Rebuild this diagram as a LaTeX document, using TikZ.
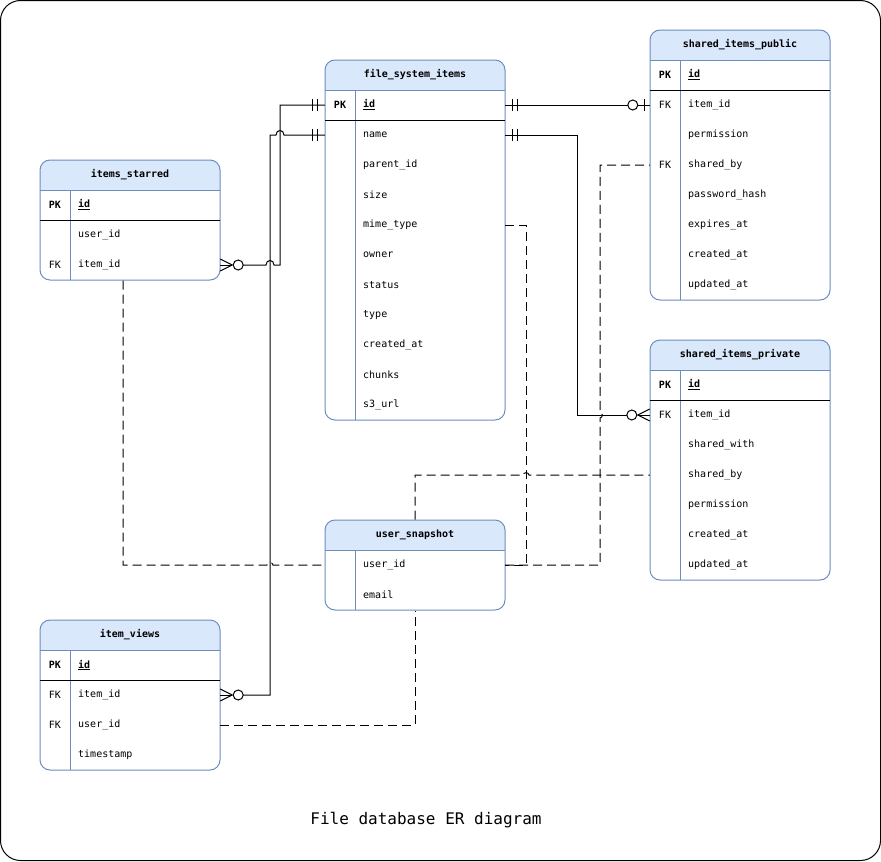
\documentclass[tikz,border=0pt]{standalone}
\usepackage{fontspec}
\setmonofont{DejaVu Sans Mono}
\usetikzlibrary{calc}
\definecolor{ebd}{HTML}{6C8EBF}
\definecolor{efill}{HTML}{DAE8FC}
\tikzset{
  tbl/.style={draw=ebd, line width=1pt, rounded corners=10pt, inner sep=0pt, minimum width=180pt},
  rowbox/.style={inner sep=0pt, minimum width=180pt, minimum height=30pt},
  hdr/.style={font=\ttfamily\bfseries\fontsize{10}{12}\selectfont, inner sep=0pt},
  keytxt/.style={font=\ttfamily\fontsize{10}{12}\selectfont, inner sep=0pt},
  fldtxt/.style={font=\ttfamily\fontsize{10}{12}\selectfont, inner sep=0pt, anchor=west},
  rel/.style={line width=1pt, black},
  drel/.style={line width=1pt, black, dash pattern=on 9pt off 5pt},
  mk/.style={line width=1pt, black},
  zc/.style={line width=1pt, black, fill=white}
}
\newcommand\ertab[5]{%
  \fill[efill] (#2,#3+30) [rounded corners=10pt] -- (#2,#3) -- (#2+180,#3) [sharp corners] -- (#2+180,#3+30) -- cycle;
  \node[tbl, minimum height=#4pt] (#1) at (#2+90,#3+#4/2) {};
  \node[hdr] (#1-title) at (#2+90,#3+15) {#5};
  \draw[ebd, line width=1pt] (#2,#3+30) -- (#2+180,#3+30);
  \draw[ebd, line width=1pt] (#2+30,#3+30) -- (#2+30,#3+#4);
}
\newcommand\ertrow[5]{%
  \node[rowbox] (#1) at (#2+90,#3) {};
  \node[keytxt] (#1-k) at (#2+15,#3) {#4};
  \node[fldtxt] (#1-t) at (#2+38,#3) {#5};
}
\newcommand\erpkline[2]{\draw[line width=1pt, black] (#1,#2) -- (#1+180,#2);}
\begin{document}
\begin{tikzpicture}[x=1pt,y=-1pt]
\useasboundingbox (0,0) rectangle (881,862);
\draw[line width=1pt, rounded corners=20pt] (0.5,0.5) rectangle (880.5,860.5);

% file_system_items
\ertab{fsi}{325}{60}{360}{file\_system\_items}
\erpkline{325}{120}
\ertrow{fsi-id}{325}{105}{\textbf{PK}}{\textbf{\underline{id}}}
\ertrow{fsi-name}{325}{135}{}{name}
\ertrow{fsi-parent}{325}{165}{}{parent\_id}
\ertrow{fsi-size}{325}{195}{}{size}
\ertrow{fsi-mime}{325}{225}{}{mime\_type}
\ertrow{fsi-owner}{325}{255}{}{owner}
\ertrow{fsi-status}{325}{285}{}{status}
\ertrow{fsi-type}{325}{315}{}{type}
\ertrow{fsi-created}{325}{345}{}{created\_at}
\ertrow{fsi-chunks}{325}{375}{}{chunks}
\ertrow{fsi-s3}{325}{405}{}{s3\_url}

% items_starred
\ertab{is}{40}{160}{120}{items\_starred}
\erpkline{40}{220}
\ertrow{is-id}{40}{205}{\textbf{PK}}{\textbf{\underline{id}}}
\ertrow{is-uid}{40}{235}{}{user\_id}
\ertrow{is-item}{40}{265}{FK}{item\_id}

% shared_items_public
\ertab{sip}{650}{30}{270}{shared\_items\_public}
\erpkline{650}{90}
\ertrow{sip-id}{650}{75}{\textbf{PK}}{\textbf{\underline{id}}}
\ertrow{sip-item}{650}{105}{FK}{item\_id}
\ertrow{sip-perm}{650}{135}{}{permission}
\ertrow{sip-shby}{650}{165}{FK}{shared\_by}
\ertrow{sip-pw}{650}{195}{}{password\_hash}
\ertrow{sip-exp}{650}{225}{}{expires\_at}
\ertrow{sip-cr}{650}{255}{}{created\_at}
\ertrow{sip-up}{650}{285}{}{updated\_at}

% shared_items_private
\ertab{sipr}{650}{340}{240}{shared\_items\_private}
\erpkline{650}{400}
\ertrow{sipr-id}{650}{385}{\textbf{PK}}{\textbf{\underline{id}}}
\ertrow{sipr-item}{650}{415}{FK}{item\_id}
\ertrow{sipr-with}{650}{445}{}{shared\_with}
\ertrow{sipr-shby}{650}{475}{}{shared\_by}
\ertrow{sipr-perm}{650}{505}{}{permission}
\ertrow{sipr-cr}{650}{535}{}{created\_at}
\ertrow{sipr-up}{650}{565}{}{updated\_at}

% user_snapshot
\ertab{us}{325}{520}{90}{user\_snapshot}
\ertrow{us-uid}{325}{565}{}{user\_id}
\ertrow{us-email}{325}{595}{}{email}

% item_views
\ertab{iv}{40}{620}{150}{item\_views}
\erpkline{40}{680}
\ertrow{iv-id}{40}{665}{\textbf{PK}}{\textbf{\underline{id}}}
\ertrow{iv-item}{40}{695}{FK}{item\_id}
\ertrow{iv-uid}{40}{725}{FK}{user\_id}
\ertrow{iv-ts}{40}{755}{}{timestamp}

% ---------- solid relations ----------
% fsi.id -> items_starred.item_id
\draw[rel] (fsi-id.west) -- (280,105) -- (280,265) -- (274,265) .. controls (274,259) and (266,259) .. (266,265) -- ($(is-item.east)+(23,0)$);
% fsi -> item_views.item_id
\draw[rel] (fsi-name.west) -- (284,135) .. controls (284,129) and (276,129) .. (276,135) -- (270,135) -- (270,695) -- ($(iv-item.east)+(23,0)$);
% fsi.id -> shared_items_public.item_id
\draw[rel] (fsi-id.east) -- ($(sip-item.west)+(-22,0)$);
\draw[rel] ($(sip-item.west)+(-12,0)$) -- (sip-item.west);
% fsi -> shared_items_private.item_id
\draw[rel] (fsi-name.east) -- (577,135) -- (577,415) -- ($(sipr-item.west)+(-23,0)$);

% mandatory-one marks
\foreach \n/\d in {fsi-id.west/-1, fsi-name.west/-1, fsi-id.east/1, fsi-name.east/1}{
  \draw[mk] ($(\n)+(\d*7,-6)$) -- ++(0,12);
  \draw[mk] ($(\n)+(\d*12,-6)$) -- ++(0,12);
}
% zero-or-one at shared_items_public
\draw[mk] ($(sip-item.west)+(-5,-6)$) -- ++(0,12);
\draw[zc] ($(sip-item.west)+(-17,0)$) circle[radius=5pt];
% zero-or-many marks
\foreach \n/\d in {is-item.east/1, iv-item.east/1, sipr-item.west/-1}{
  \draw[mk] ($(\n)+(0,-6)$) -- ($(\n)+(\d*12,0)$) -- ($(\n)+(0,6)$);
  \draw[mk] (\n) -- ($(\n)+(\d*12,0)$);
  \draw[zc] ($(\n)+(\d*18,0)$) circle[radius=5pt];
}

% ---------- dashed relations ----------
\draw[drel] ($(is.south)+(-7,0)$) -- (123,565) -- (267,565) .. controls (267,562) and (273,562) .. (273,565) -- (us-uid.west);
\draw[drel] (fsi-mime.east) -- (526,225) -- (526,565) -- (us-uid.east);
\draw[drel] (us-uid.east) -- (600,565) -- (600,418) .. controls (603,418) and (603,412) .. (600,412) -- (600,165) -- (sip-shby.west);
\draw[drel] (us.north) -- (415,475) -- (523,475) .. controls (523,472) and (529,472) .. (529,475) -- (sipr-shby.west);
\draw[drel] (iv-uid.east) -- (415,725) -- (us.south);

% title
\node[font=\ttfamily\fontsize{16}{19}\selectfont, inner sep=0pt] (title) at (426,820) {File database ER diagram};
\end{tikzpicture}
\end{document}
